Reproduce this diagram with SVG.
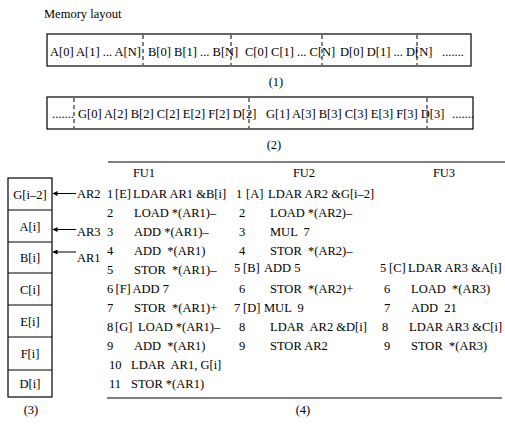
<svg xmlns="http://www.w3.org/2000/svg" width="505" height="425" viewBox="0 0 505 425">
<style>
text{font-family:"Liberation Serif","Times New Roman",serif;font-size:12.5px;fill:#000;white-space:pre}
.c{text-anchor:middle}
.box{fill:none;stroke:#000;stroke-width:1.2}
.dash{stroke:#000;stroke-width:1;stroke-dasharray:4 3}
.rule{stroke:#000;stroke-width:1.2}
.arr{stroke:#000;stroke-width:1;marker-end:url(#ah)}
</style>
<defs>
<marker id="ah" viewBox="0 0 10 10" refX="9" refY="5" markerWidth="6" markerHeight="5" orient="auto" markerUnits="userSpaceOnUse">
<path d="M0,0 L10,5 L0,10 z" fill="#000"/>
</marker>
</defs>
<rect width="505" height="425" fill="#fff"/>
<text x="44" y="18">Memory layout</text>

<g id="layout1">
<rect class="box" x="47" y="34" width="424" height="32"/>
<line class="dash" x1="143" y1="35" x2="143" y2="65"/>
<line class="dash" x1="231" y1="35" x2="231" y2="65"/>
<line class="dash" x1="322" y1="35" x2="322" y2="65"/>
<line class="dash" x1="417" y1="35" x2="417" y2="65"/>
<text x="50" y="56">A[0] A[1] ... A[N]</text>
<text x="148" y="56">B[0] B[1] ... B[N]</text>
<text x="245" y="56">C[0] C[1] ... C[N]</text>
<text x="340" y="56">D[0] D[1] ... D[N]</text>
<text x="442" y="56">.......</text>
<text class="c" x="276" y="86">(1)</text>
</g>

<g id="layout2">
<rect class="box" x="47" y="97" width="426" height="32"/>
<line class="dash" x1="74" y1="98" x2="74" y2="128"/>
<line class="dash" x1="249" y1="98" x2="249" y2="128"/>
<line class="dash" x1="427" y1="98" x2="427" y2="128"/>
<text x="52" y="118">.......</text>
<text x="78" y="118">G[0] A[2] B[2] C[2] E[2] F[2] D[2]</text>
<text x="266" y="118">G[1] A[3] B[3] C[3] E[3] F[3] D[3]</text>
<text x="452" y="118">.......</text>
<text class="c" x="274" y="149">(2)</text>
</g>

<g id="stack">
<rect class="box" x="8" y="178" width="44" height="219"/>
<line class="rule" x1="8" y1="210" x2="52" y2="210"/>
<line class="rule" x1="8" y1="242" x2="52" y2="242"/>
<line class="rule" x1="8" y1="273" x2="52" y2="273"/>
<line class="rule" x1="8" y1="305" x2="52" y2="305"/>
<line class="rule" x1="8" y1="337" x2="52" y2="337"/>
<line class="rule" x1="8" y1="370" x2="52" y2="370"/>
<text class="c" x="30" y="198.5">G[i–2]</text>
<text class="c" x="30" y="230.5">A[i]</text>
<text class="c" x="30" y="262">B[i]</text>
<text class="c" x="30" y="293.5">C[i]</text>
<text class="c" x="30" y="325.5">E[i]</text>
<text class="c" x="30" y="358">F[i]</text>
<text class="c" x="30" y="388">D[i]</text>
<text class="c" x="31" y="414">(3)</text>
</g>

<g id="labels">
<text x="77" y="197.5">AR2</text>
<text x="77" y="236">AR3</text>
<text x="77" y="262">AR1</text>
</g>

<g id="connectors">
<line class="arr" x1="76" y1="193.5" x2="53" y2="193.5"/>
<line class="arr" x1="76" y1="229.5" x2="53" y2="229.5"/>
<line class="arr" x1="76" y1="252" x2="53" y2="252"/>
</g>

<g id="table">
<line class="rule" x1="108" y1="162" x2="505" y2="162"/>
<line class="rule" x1="107" y1="398" x2="502" y2="398"/>
<text class="c" x="144" y="177">FU1</text>
<text class="c" x="304" y="177">FU2</text>
<text class="c" x="444" y="177">FU3</text>
<text class="c" x="303" y="414">(4)</text>
</g>

<g id="fu1">
<text x="107" y="198">1</text><text x="115" y="198">[E]</text><text x="133" y="198">LDAR AR1 &amp;B[i]</text>
<text x="107" y="217">2</text><text x="134" y="217">LOAD *(AR1)–</text>
<text x="107" y="236">3</text><text x="134" y="236">ADD *(AR1)–</text>
<text x="107" y="255">4</text><text x="134" y="255">ADD  *(AR1)</text>
<text x="107" y="274">5</text><text x="134" y="274">STOR  *(AR1)–</text>
<text x="107" y="293">6</text><text x="115.5" y="293">[F]</text><text x="132.5" y="293">ADD 7</text>
<text x="107" y="312">7</text><text x="134" y="312">STOR  *(AR1)+</text>
<text x="107" y="331">8</text><text x="115" y="331">[G]</text><text x="138" y="331">LOAD *(AR1)–</text>
<text x="107" y="350">9</text><text x="134" y="350">ADD  *(AR1)</text>
<text x="109" y="369">10</text><text x="131" y="369">LDAR  AR1, G[i]</text>
<text x="109" y="388">11</text><text x="131" y="388">STOR *(AR1)</text>
</g>

<g id="fu2">
<text x="236" y="198">1</text><text x="246" y="198">[A]</text><text x="268" y="198">LDAR AR2 &amp;G[i–2]</text>
<text x="239" y="217">2</text><text x="270" y="217">LOAD *(AR2)–</text>
<text x="239" y="236">3</text><text x="270" y="236">MUL  7</text>
<text x="239" y="255">4</text><text x="270" y="255">STOR  *(AR2)–</text>
<text x="234" y="272">5</text><text x="243" y="272">[B]</text><text x="264" y="272">ADD 5</text>
<text x="239" y="293">6</text><text x="270" y="293">STOR  *(AR2)+</text>
<text x="234" y="312">7</text><text x="243" y="312">[D]</text><text x="264" y="312">MUL  9</text>
<text x="239" y="331">8</text><text x="270" y="331">LDAR  AR2 &amp;D[i]</text>
<text x="239" y="350">9</text><text x="270" y="350">STOR AR2</text>
</g>

<g id="fu3">
<text x="380" y="272">5</text><text x="389" y="272">[C]</text><text x="408" y="272">LDAR AR3 &amp;A[i]</text>
<text x="384" y="293">6</text><text x="411" y="293">LOAD  *(AR3)</text>
<text x="384" y="312">7</text><text x="411" y="312">ADD  21</text>
<text x="382" y="331">8</text><text x="409" y="331">LDAR AR3 &amp;C[i]</text>
<text x="384" y="350">9</text><text x="411" y="350">STOR  *(AR3)</text>
</g>
</svg>
